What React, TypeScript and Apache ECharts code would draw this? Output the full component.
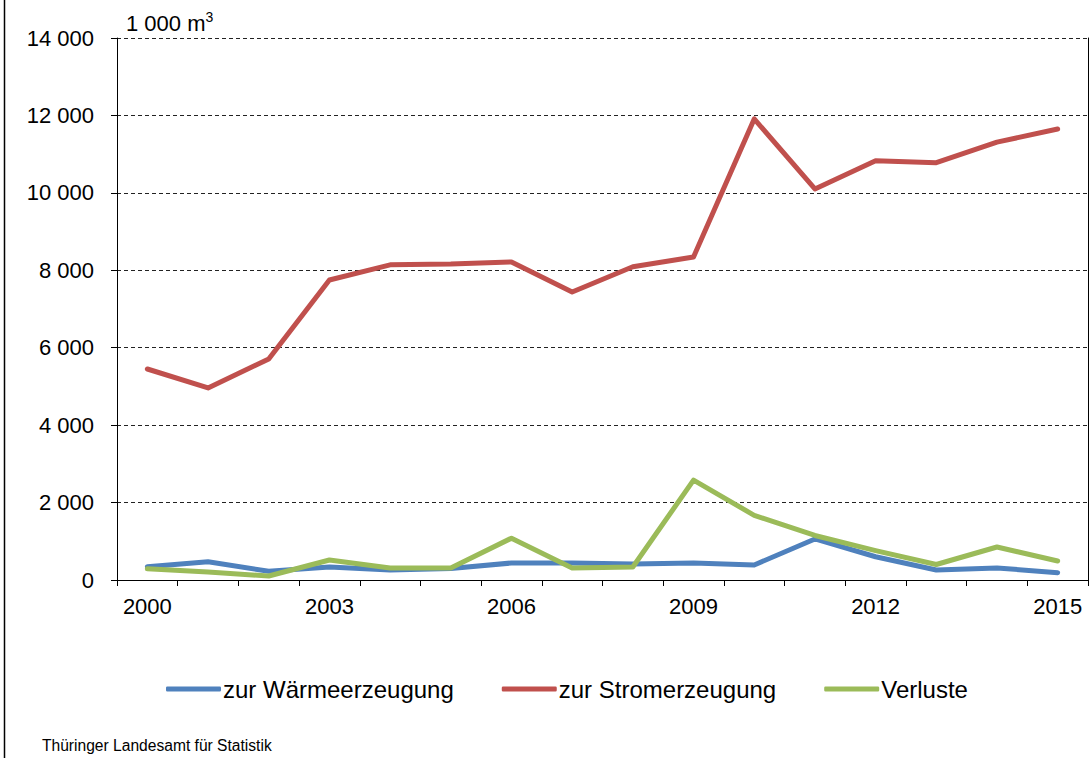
import React, { useEffect, useRef } from "react";
import * as echarts from "echarts";

const years = ["2000","2001","2002","2003","2004","2005","2006","2007","2008","2009","2010","2011","2012","2013","2014","2015"];
const waerme = [340, 470, 225, 336, 258, 300, 439, 439, 415, 439, 388, 1060, 600, 258, 310, 190];
const strom = [5450, 4960, 5710, 7750, 8140, 8160, 8215, 7440, 8090, 8345, 11910, 10100, 10830, 10780, 11310, 11650];
const verluste = [290, 207, 103, 517, 310, 310, 1080, 310, 336, 2580, 1670, 1150, 760, 400, 852, 490];
const seriesNames = ["zur Wärmeerzeugung", "zur Stromerzeugung", "Verluste"];
const colors = ["#4F81BD", "#C0504D", "#9BBB59"];
const unitLabel = "1 000 m";
const source = "Thüringer Landesamt für Statistik";

const FONT = "'Liberation Sans', Arial, sans-serif";

function fmt(v: number): string {
  return String(v).replace(/\B(?=(\d{3})+(?!\d))/g, " ");
}

export default function App() {
  const ref = useRef<HTMLDivElement>(null);
  useEffect(() => {
    document.body.style.margin = "0";
    const chart = echarts.init(ref.current!, null, { renderer: "svg" });
    const data = [waerme, strom, verluste];
    chart.setOption({
      animation: false,
      backgroundColor: "#ffffff",
      textStyle: { fontFamily: FONT },
      grid: { left: 117, right: 1, top: 38, bottom: 178, containLabel: false },
      legend: {
        left: 161,
        top: 672,
        itemWidth: 55,
        itemHeight: 5,
        itemGap: 48,
        icon: "roundRect",
        textStyle: { fontFamily: FONT, fontSize: 24, color: "#000", padding: [0, 0, 0, -3] },
        data: seriesNames,
      },
      xAxis: {
        type: "category",
        data: years,
        boundaryGap: true,
        axisLine: { lineStyle: { color: "#000", width: 1 } },
        axisTick: { show: true, interval: 0, length: 6, lineStyle: { color: "#000" } },
        axisLabel: { interval: 2, margin: 15, fontSize: 22, color: "#000", fontFamily: FONT },
      },
      yAxis: [
        {
          type: "value",
          min: 0,
          max: 14000,
          interval: 2000,
          axisLine: { show: true, lineStyle: { color: "#000", width: 1 } },
          axisTick: { show: true, length: 6, lineStyle: { color: "#000" } },
          axisLabel: { margin: 23, fontSize: 22, color: "#000", fontFamily: FONT, formatter: (v: number) => fmt(v) },
          splitLine: { show: true, lineStyle: { color: "#222", type: [4, 3], width: 1 } },
        },
        {
          type: "value",
          min: 0,
          max: 14000,
          interval: 2000,
          position: "right",
          axisLine: { show: true, lineStyle: { color: "#000", width: 1 } },
          axisTick: { show: false },
          axisLabel: { show: false },
          splitLine: { show: false },
        },
      ],
      series: seriesNames.map((name, i) => ({
        name,
        type: "line",
        data: data[i],
        yAxisIndex: 0,
        symbol: "none",
        color: colors[i],
        lineStyle: { width: 5, color: colors[i], cap: "round", join: "round" },
      })),
      graphic: [
        {
          type: "line",
          shape: { x1: 4.5, y1: 0, x2: 4.5, y2: 758 },
          style: { stroke: "#000", lineWidth: 1.5 },
        },
        {
          type: "text",
          left: 126,
          top: 10,
          style: {
            text: "{a|" + unitLabel + "}{b|3}",
            rich: {
              a: { fontSize: 22, fontFamily: FONT, fill: "#000", verticalAlign: "bottom" },
              b: { fontSize: 14, fontFamily: FONT, fill: "#000", verticalAlign: "top", padding: [0, 0, 10, 0] },
            },
          },
        },
        {
          type: "text",
          left: 42,
          top: 737,
          style: { text: source, fontSize: 15.6, fontFamily: FONT, fill: "#000" },
        },
      ],
    });
    return () => chart.dispose();
  }, []);
  return <div ref={ref} style={{ width: 1089, height: 758 }} />;
}
